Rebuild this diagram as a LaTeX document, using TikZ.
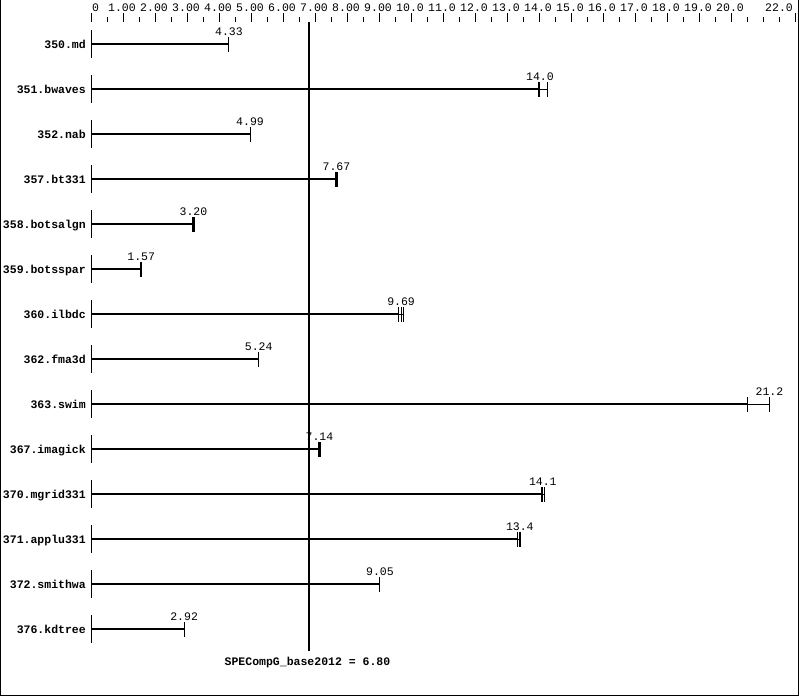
\documentclass[tikz,border=0pt]{standalone}
\usepackage{fontspec}
\setmonofont{Liberation Mono}
\usetikzlibrary{positioning}
\tikzset{
  chartfont/.style={font=\ttfamily\fontsize{11.5}{13}\selectfont, inner sep=0pt},
  namelabel/.style={font=\ttfamily\bfseries\fontsize{11.5}{13}\selectfont, inner sep=0pt, anchor=base east},
  valuelabel/.style={chartfont, anchor=base},
  axislabel/.style={chartfont, anchor=base},
  runbar/.style={line width=2.4pt},
  runspan/.style={line width=1pt},
  runtick/.style={line width=1pt},
  refline/.style={line width=2pt}
}

\begin{document}
\begin{tikzpicture}[x=1pt,y=-1pt]
        \useasboundingbox (0,0) rectangle (799,696);
        % frame
        \draw[line width=1pt] (0.5,0) -- (0.5,695.5) -- (798.5,695.5) -- (798.5,0);
        % scale on top
        \foreach \v in {0,...,20,22}
            \draw[runtick] ({91+32*\v},13) -- ({91+32*\v},22);
        \foreach \v in {0.5,1.5,...,21.5,21}
            \draw[runtick] ({91+32*\v},17) -- ({91+32*\v},22);
        \node[chartfont, anchor=base west] (ax0) at (92,12) {0};
        \foreach \v/\t in {1/1.00,2/2.00,3/3.00,4/4.00,5/5.00,6/6.00,7/7.00,8/8.00,9/9.00,
                           10/10.0,11/11.0,12/12.0,13/13.0,14/14.0,15/15.0,16/16.0,17/17.0,
                           18/18.0,19/19.0,20/20.0}
            \node[axislabel] (ax\v) at ({90+32*\v},12) {\t};
        \node[chartfont, anchor=base east] (ax22) at (793,12) {22.0};
        % one row per benchmark: name / shown value / runs
        \foreach \n/\name/\shown/\ra/\rb/\rc in {
            0/350.md/4.33/4.31/4.31/4.31,
            1/351.bwaves/14.0/13.97/14.03/14.25,
            2/352.nab/4.99/4.97/4.97/4.97,
            3/357.bt331/7.67/7.63/7.67/7.70,
            4/358.botsalgn/3.20/3.17/3.20/3.22,
            5/359.botsspar/1.57/1.56/1.57/1.58,
            6/360.ilbdc/9.69/9.62/9.69/9.78,
            7/362.fma3d/5.24/5.24/5.24/5.24,
            8/363.swim/21.2/20.5/21.2/21.2,
            9/367.imagick/7.14/7.12/7.14/7.16,
            10/370.mgrid331/14.1/14.08/14.12/14.18,
            11/371.applu331/13.4/13.33/13.40/13.43,
            12/372.smithwa/9.05/9.03/9.03/9.03,
            13/376.kdtree/2.92/2.91/2.91/2.91}
        {
            \pgfmathsetmacro{\yy}{44+45*\n}
            \node[namelabel] (name\n) at (86,{\yy+4}) {\name};
            \coordinate (base\n) at (91,\yy);
            \coordinate (low\n) at ({91+32*\ra},\yy);
            \coordinate (mid\n) at ({91+32*\rb},\yy);
            \coordinate (high\n) at ({91+32*\rc},\yy);
            \draw[runtick] (91,{\yy-14}) -- (91,{\yy+14});
            \draw[runbar] (base\n) -- (low\n);
            \draw[runspan] (low\n) -- (high\n);
            \foreach \c in {low,mid,high}
                \draw[runtick] ([yshift=7pt]\c\n) -- ([yshift=-8pt]\c\n);
            \node[valuelabel] (value\n) at ([yshift=9pt]mid\n) {\shown};
        }
        % reference line
        \coordinate (reftop) at (308.6,22);
        \node[namelabel, anchor=base] (refname) at (307.5,665) {SPECompG\_base2012 = 6.80};
        \draw[refline] (reftop) -- ([yshift=5pt]reftop |- refname.north);
\end{tikzpicture}
\end{document}
